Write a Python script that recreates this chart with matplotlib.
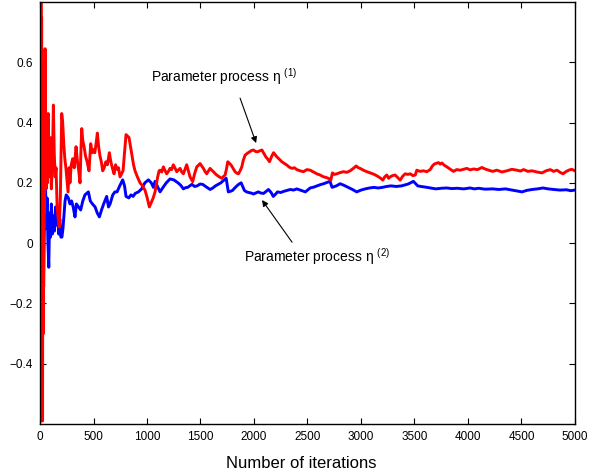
import matplotlib
matplotlib.use("Agg")
import matplotlib.pyplot as plt

plt.rcParams['font.family'] = ['Liberation Sans', 'DejaVu Sans']
plt.rcParams['mathtext.fontset'] = 'custom'
plt.rcParams['mathtext.rm'] = 'Liberation Sans'
plt.rcParams['mathtext.default'] = 'regular'

# parameter process eta(1), red
red_iter = [0, 3, 6, 9, 12, 15, 18, 21, 24, 27,
            30, 33, 36, 39, 41, 43, 45, 47, 52, 58,
            64, 70, 76, 82, 90, 98, 106, 115, 125, 133,
            142, 150, 160, 170, 180, 190, 197, 203, 212, 222,
            232, 242, 252, 262, 272, 280, 292, 305, 320, 337,
            350, 362, 374, 382, 390, 400, 412, 425, 440, 458,
            474, 488, 500, 512, 524, 536, 548, 560, 573, 586,
            600, 615, 630, 648, 662, 676, 692, 706, 720, 734,
            748, 762, 776, 790, 804, 818, 832, 846, 860, 874,
            888, 910, 935, 958, 982, 1002, 1022, 1040, 1058, 1075,
            1090, 1100, 1113, 1122, 1138, 1153, 1168, 1184, 1200, 1215,
            1230, 1246, 1262, 1278, 1294, 1309, 1325, 1340, 1356, 1371,
            1386, 1402, 1427, 1445, 1465, 1480, 1496, 1512, 1527, 1542,
            1558, 1575, 1590, 1605, 1621, 1636, 1652, 1675, 1699, 1715,
            1730, 1742, 1755, 1770, 1786, 1805, 1823, 1840, 1855, 1870,
            1886, 1900, 1917, 1938, 1958, 1975, 1995, 2015, 2033, 2052,
            2074, 2092, 2111, 2128, 2145, 2165, 2183, 2200, 2214, 2238,
            2260, 2285, 2307, 2330, 2354, 2378, 2400, 2430, 2462, 2495,
            2525, 2555, 2587, 2618, 2649, 2672, 2696, 2718, 2733, 2752,
            2774, 2805, 2836, 2868, 2899, 2928, 2955, 2975, 2992, 3022,
            3055, 3085, 3117, 3140, 3164, 3185, 3204, 3222, 3241, 3258,
            3273, 3295, 3319, 3342, 3366, 3390, 3413, 3437, 3460, 3485,
            3507, 3522, 3552, 3584, 3615, 3647, 3665, 3684, 3705, 3725,
            3740, 3756, 3780, 3803, 3835, 3865, 3895, 3927, 3960, 3990,
            4020, 4052, 4090, 4130, 4160, 4193, 4230, 4270, 4318, 4364,
            4410, 4458, 4490, 4520, 4560, 4598, 4645, 4692, 4730, 4770,
            4800, 4832, 4860, 4888, 4915, 4941, 4970, 5000]
red_val = [0.30, 0.85, -0.20, 0.82, -0.59, 0.75, -0.50, 0.60, -0.59, 0.50,
           -0.30, 0.45, 0.05, 0.55, 0.10, 0.60, 0.20, 0.645, 0.30, 0.18,
           0.42, 0.20, 0.43, 0.30, 0.22, 0.35, 0.18, 0.25, 0.458, 0.30,
           0.22, 0.25, 0.12, 0.08, 0.053, 0.15, 0.30, 0.43, 0.40, 0.33,
           0.28, 0.25, 0.21, 0.17, 0.25, 0.20, 0.26, 0.28, 0.25, 0.32,
           0.27, 0.24, 0.20, 0.30, 0.38, 0.34, 0.32, 0.29, 0.27, 0.24,
           0.33, 0.30, 0.31, 0.30, 0.33, 0.365, 0.32, 0.29, 0.27, 0.24,
           0.25, 0.27, 0.26, 0.30, 0.27, 0.25, 0.23, 0.26, 0.245, 0.25,
           0.22, 0.23, 0.24, 0.30, 0.36, 0.355, 0.35, 0.32, 0.29, 0.26,
           0.24, 0.22, 0.20, 0.19, 0.175, 0.15, 0.12, 0.135, 0.15, 0.17,
           0.20, 0.22, 0.24, 0.242, 0.236, 0.253, 0.241, 0.23, 0.238, 0.248,
           0.244, 0.26, 0.249, 0.237, 0.243, 0.248, 0.236, 0.23, 0.246, 0.26,
           0.24, 0.22, 0.204, 0.23, 0.253, 0.258, 0.264, 0.256, 0.248, 0.238,
           0.23, 0.24, 0.248, 0.242, 0.237, 0.231, 0.226, 0.22, 0.215, 0.221,
           0.226, 0.245, 0.27, 0.265, 0.259, 0.248, 0.237, 0.232, 0.23, 0.24,
           0.253, 0.275, 0.292, 0.298, 0.303, 0.307, 0.309, 0.304, 0.303, 0.306,
           0.309, 0.298, 0.286, 0.279, 0.27, 0.288, 0.30, 0.292, 0.286, 0.278,
           0.27, 0.264, 0.259, 0.252, 0.248, 0.25, 0.244, 0.24, 0.237, 0.244,
           0.242, 0.236, 0.23, 0.226, 0.22, 0.218, 0.215, 0.209, 0.233, 0.228,
           0.23, 0.234, 0.237, 0.235, 0.24, 0.248, 0.256, 0.25, 0.248, 0.242,
           0.237, 0.233, 0.229, 0.225, 0.22, 0.215, 0.209, 0.22, 0.226, 0.215,
           0.22, 0.224, 0.226, 0.218, 0.209, 0.222, 0.23, 0.228, 0.23, 0.224,
           0.226, 0.242, 0.238, 0.24, 0.237, 0.244, 0.255, 0.262, 0.265, 0.267,
           0.262, 0.266, 0.258, 0.253, 0.245, 0.238, 0.244, 0.242, 0.245, 0.248,
           0.243, 0.246, 0.244, 0.251, 0.246, 0.242, 0.238, 0.242, 0.236, 0.24,
           0.245, 0.242, 0.239, 0.244, 0.238, 0.24, 0.236, 0.233, 0.24, 0.244,
           0.238, 0.242, 0.235, 0.23, 0.237, 0.242, 0.245, 0.24]

# parameter process eta(2), blue
blue_iter = [0, 6, 12, 18, 26, 34, 42, 50, 58, 66,
             74, 82, 90, 98, 106, 115, 125, 135, 145, 155,
             165, 175, 185, 195, 205, 215, 225, 234, 245, 265,
             280, 295, 310, 327, 340, 360, 380, 400, 420, 452,
             470, 490, 515, 535, 555, 575, 595, 623, 640, 655,
             680, 700, 720, 745, 773, 790, 804, 830, 850, 870,
             890, 920, 950, 980, 1013, 1040, 1060, 1075, 1095, 1122,
             1150, 1180, 1215, 1250, 1270, 1290, 1315, 1340, 1360, 1380,
             1400, 1420, 1445, 1470, 1495, 1520, 1540, 1560, 1590, 1615,
             1640, 1665, 1690, 1715, 1740, 1760, 1780, 1800, 1820, 1840,
             1860, 1880, 1910, 1930, 1950, 1975, 1995, 2020, 2040, 2065,
             2090, 2115, 2135, 2160, 2180, 2200, 2220, 2250, 2280, 2310,
             2340, 2370, 2400, 2440, 2480, 2525, 2560, 2590, 2620, 2650,
             2680, 2710, 2730, 2770, 2805, 2840, 2880, 2920, 2960, 3000,
             3040, 3080, 3120, 3160, 3200, 3240, 3280, 3330, 3380, 3440,
             3490, 3530, 3560, 3600, 3650, 3700, 3750, 3800, 3850, 3900,
             3960, 4020, 4060, 4100, 4160, 4230, 4290, 4350, 4430, 4505,
             4550, 4600, 4650, 4700, 4750, 4800, 4860, 4920, 4960, 5000]
blue_val = [0.32, 0.0, 0.25, -0.05, 0.10, -0.145, 0.10, 0.23, 0.05, 0.15,
            0.0, -0.08, 0.10, 0.02, 0.13, 0.03, 0.09, 0.04, 0.12, 0.06,
            0.10, 0.03, 0.08, 0.02, 0.02, 0.05, 0.10, 0.14, 0.16, 0.15,
            0.13, 0.14, 0.12, 0.087, 0.13, 0.12, 0.11, 0.14, 0.16, 0.17,
            0.14, 0.13, 0.12, 0.10, 0.087, 0.11, 0.13, 0.155, 0.12, 0.13,
            0.16, 0.17, 0.17, 0.19, 0.21, 0.19, 0.155, 0.15, 0.16, 0.155,
            0.165, 0.17, 0.18, 0.20, 0.21, 0.20, 0.185, 0.205, 0.19, 0.17,
            0.185, 0.20, 0.213, 0.21, 0.205, 0.20, 0.192, 0.18, 0.184, 0.185,
            0.19, 0.195, 0.188, 0.19, 0.196, 0.195, 0.19, 0.185, 0.178, 0.183,
            0.19, 0.195, 0.20, 0.208, 0.215, 0.17, 0.172, 0.175, 0.183, 0.19,
            0.196, 0.20, 0.175, 0.17, 0.168, 0.166, 0.163, 0.167, 0.17, 0.166,
            0.165, 0.172, 0.178, 0.168, 0.155, 0.162, 0.17, 0.168, 0.172, 0.175,
            0.178, 0.176, 0.18, 0.175, 0.17, 0.183, 0.186, 0.19, 0.194, 0.197,
            0.201, 0.205, 0.185, 0.19, 0.197, 0.192, 0.185, 0.178, 0.17, 0.176,
            0.18, 0.183, 0.185, 0.183, 0.185, 0.188, 0.19, 0.188, 0.19, 0.196,
            0.205, 0.19, 0.188, 0.186, 0.183, 0.18, 0.182, 0.183, 0.181, 0.182,
            0.18, 0.183, 0.18, 0.182, 0.179, 0.18, 0.178, 0.18, 0.175, 0.17,
            0.175, 0.178, 0.18, 0.183, 0.18, 0.178, 0.176, 0.177, 0.174, 0.176]

fig = plt.figure(figsize=(5.98, 4.73), dpi=100)
ax = fig.add_axes([0.0669, 0.1036, 0.8946, 0.8922])

ax.plot(blue_iter, blue_val, color='#0000ff', lw=2.1)
ax.plot(red_iter, red_val, color='#ff0000', lw=2.1)

ax.set_xlim(0, 5000)
ax.set_ylim(-0.6, 0.8)
ax.set_xticks(range(0, 5001, 500))
ax.set_yticks([-0.4, -0.2, 0, 0.2, 0.4, 0.6])
ax.set_yticklabels(['\u22120.4', '\u22120.2', '0', '0.2', '0.4', '0.6'])
ax.tick_params(direction='in', top=True, right=True, length=4, width=0.8,
               labelsize=8.5, pad=5)
for sp in ax.spines.values():
    sp.set_linewidth(1.0)

ax.set_xlabel('Number of iterations', fontsize=12, labelpad=8)
ax.xaxis.set_label_coords(0.488, -0.075)

arr = dict(arrowstyle='-|>', color='k', lw=0.8, mutation_scale=9, shrinkA=0, shrinkB=0)
ax.annotate('', xy=(2020, 0.332), xytext=(1870, 0.481), arrowprops=arr)
ax.annotate('', xy=(2075, 0.143), xytext=(2356, 0.003), arrowprops=arr)
ax.text(1035, 0.535, 'Parameter process \u03b7 $^{(1)}$', fontsize=10, va='baseline')
ax.text(1910, -0.063, 'Parameter process \u03b7 $^{(2)}$', fontsize=10, va='baseline')

fig.savefig('out.png', dpi=100)
